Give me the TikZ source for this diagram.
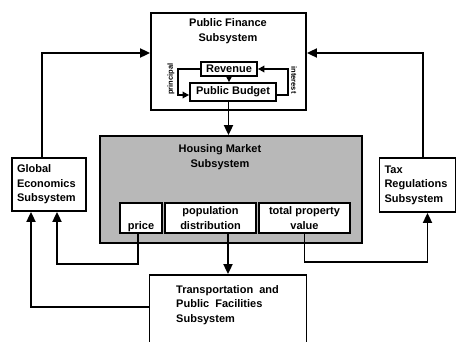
\documentclass[tikz,border=0pt]{standalone}
\usepackage{fontspec}
\setmainfont{Liberation Sans}
\usetikzlibrary{arrows.meta}

\begin{document}
\begin{tikzpicture}[x=1pt, y=-1pt, line width=1.8pt,
  font=\fontsize{11}{14.5}\selectfont\bfseries,
  box/.style={draw, rectangle, inner sep=0pt},
  inbox/.style={draw, fill=white, inner sep=0pt, align=center},
  arr/.style={-{Triangle[length=10pt, width=9pt]}},
  sarr/.style={-{Triangle[length=6.5pt, width=6.5pt]}},
  tag/.style={font=\fontsize{7.5}{9}\selectfont\bfseries}]
\useasboundingbox (0,0) rectangle (458,341);
\clip (0,0) rectangle (458,341);

\node[box, minimum width=155pt, minimum height=97pt] (pf) at (228.5,61.5) {};
\node[align=center] (pftitle) at (228,31) {Public Finance\\Subsystem};
\node[inbox, minimum width=56pt, minimum height=14pt] (revenue) at (229,69) {Revenue};
\node[inbox, minimum width=86pt, minimum height=18pt] (budget) at (233,92) {Public Budget};
\node[tag, rotate=90] (principal) at (171,79) {principal};
\node[tag, rotate=-90] (interest) at (294,80) {interest};

\node[box, fill=black!28, minimum width=262pt, minimum height=107pt] (housing) at (231,189.5) {};
\node[align=center] (hmtitle) at (220,157) {Housing Market\\Subsystem};
\node[inbox, minimum width=42pt, minimum height=30pt] (price) at (141,218) {\strut\\price};
\node[inbox, minimum width=91pt, minimum height=30pt] (popdist) at (210.5,218) {population\\distribution};
\node[inbox, minimum width=91pt, minimum height=30pt] (totalval) at (304.5,218) {total property\\value};

\node[box, minimum width=74pt, minimum height=53pt, align=left, text width=64pt] (global) at (49,184.5) {Global\\Economics\\Subsystem};
\node[box, minimum width=76pt, minimum height=54pt, align=left, text width=66pt] (tax) at (417.5,185) {Tax\\Regulations\\Subsystem};

\node[box, minimum width=157pt, minimum height=70pt] (transport) at (228,310) {};
\node[align=left, anchor=north west] (transtext) at (172,281) {Transportation\ \ and\\Public\ \ Facilities\\Subsystem};

% inside public finance
\draw[sarr] (revenue.south) -- (revenue.south |- budget.north);
\draw[sarr] (revenue.west) -- ++(-22,0) |- ([yshift=-3pt]budget.west);
\draw[sarr] ([yshift=-3pt]budget.east) -- ++(11,0) |- (revenue.east);

% between subsystems
\draw[arr] ([xshift=-7pt]global.north) |- ([yshift=8.5pt]pf.west);
\draw[arr] ([xshift=5.5pt]tax.north) |- ([yshift=8.5pt]pf.east);
\draw[arr] (budget.south -| pf.south) -- (housing.north -| pf.south);
\draw[arr] ([xshift=-3pt]price.south) -- ++(0,30) -| ([xshift=8pt]global.south);
\draw[arr] ([yshift=3pt]transport.west) -| ([xshift=-18pt]global.south);
\draw[arr] (totalval.south) -- ++(0,28) -| ([xshift=10pt]tax.south);
\draw[arr] (popdist.south -| transport.north) -- (transport.north);
\end{tikzpicture}
\end{document}
